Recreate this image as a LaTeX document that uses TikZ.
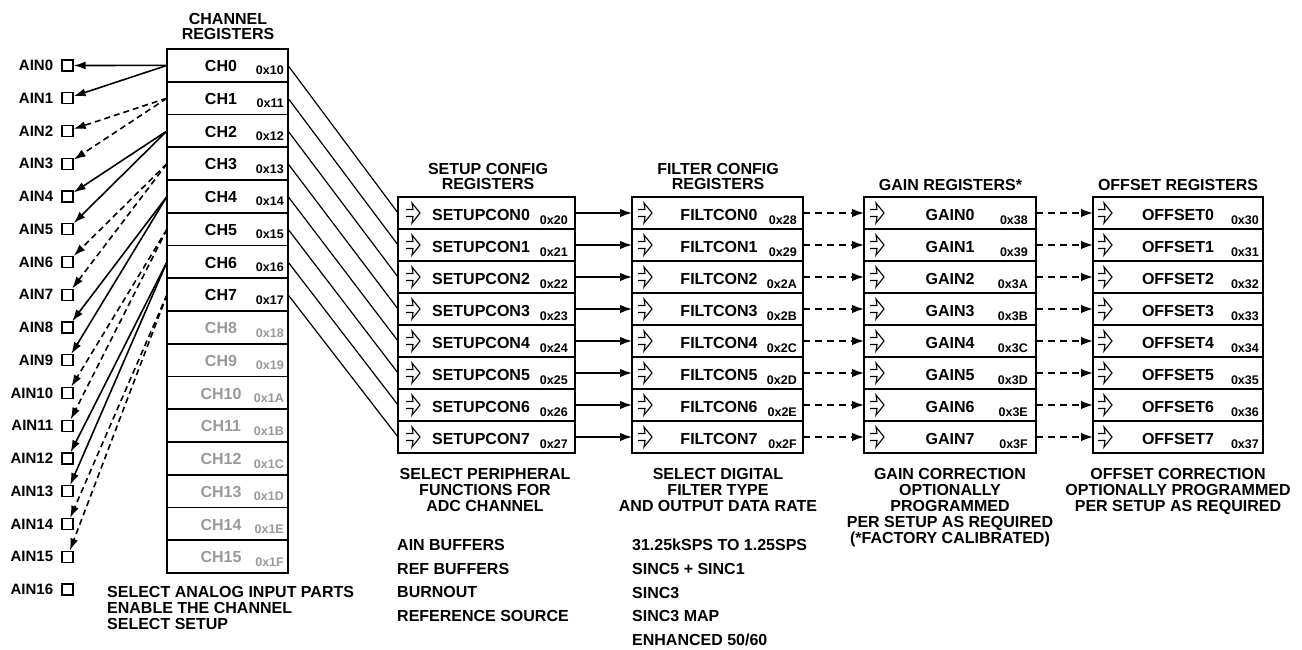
\documentclass[tikz,border=0pt]{standalone}
\usepackage{fontspec}
\setmainfont{Liberation Sans}
\usetikzlibrary{positioning,arrows.meta}
\definecolor{chgray}{gray}{0.6}

\begin{document}
\begin{tikzpicture}[x=1pt,y=-1pt,
  reg/.style={draw,line width=1.9pt,inner sep=0pt,outer sep=0pt,minimum height=32pt,minimum width=#1},
  chreg/.style={reg=121pt,minimum height=32.75pt},
  rname/.style={inner sep=0pt,font=\fontsize{16}{16}\selectfont\bfseries},
  raddr/.style={inner sep=0pt,anchor=base east,font=\fontsize{12.5}{12.5}\selectfont\bfseries},
  dim/.style={text=chgray},
  ainpad/.style={draw,line width=1.3pt,minimum size=11pt,inner sep=0pt},
  ainlbl/.style={inner sep=0pt,font=\fontsize{15}{15}\selectfont\bfseries},
  head/.style={inner sep=0pt,anchor=north,align=center,font=\fontsize{16}{15}\selectfont\bfseries},
  note/.style={inner sep=0pt,anchor=north,align=center,font=\fontsize{16}{16}\selectfont\bfseries},
  featlist/.style={inner sep=0pt,anchor=north west,align=left,font=\fontsize{16}{23.7}\selectfont\bfseries},
  wire/.style={line width=1.2pt},
  ainarr/.style={line width=1.6pt,-{Latex[length=12pt,width=8pt]}},
  ainarrd/.style={ainarr,dash pattern=on 6pt off 4pt},
  flow/.style={line width=1.6pt,-{Latex[length=12pt,width=8.5pt]}},
  dashflow/.style={flow,dash pattern=on 7pt off 5pt},
  warr/.pic={\draw[line width=1.1pt] (0,-3.5) -- (7,-3.5) -- (6,-10) -- (14,0) -- (6,10) -- (7,3.5) -- (0,3.5);}
]
\useasboundingbox (0,0) rectangle (1302,650);

% channel registers
\node[head] (chtitle) at (228,13) {CHANNEL\\REGISTERS};
\foreach \i/\a in {0/10,1/11,2/12,3/13,4/14,5/15,6/16,7/17} {
  \node[chreg] (ch\i) at (227.5,65.4+32.75*\i) {};
  \node[rname] (chn\i) at (221,66+32.75*\i) {CH\i};
  \node[raddr] (cha\i) at (284,75+32.75*\i) {0x\a};
}
\foreach \i/\a in {8/18,9/19,10/1A,11/1B,12/1C,13/1D,14/1E,15/1F} {
  \node[chreg] (ch\i) at (227.5,65.4+32.75*\i) {};
  \node[rname,dim] (chn\i) at (221,66+32.75*\i) {CH\i};
  \node[raddr,dim] (cha\i) at (284,75+32.75*\i) {0x\a};
}

% analog inputs
\foreach \i in {0,...,16} {
  \node[ainpad] (ain\i) at (67.5,65.5+32.75*\i) {};
  \node[ainlbl,left=8pt of ain\i] (ainl\i) {AIN\i};
}
\foreach \i in {0,...,15} {
  \pgfmathtruncatemacro\k{\i/2}
  \pgfmathtruncatemacro\odd{mod(\k,2)}
  \ifnum\odd=0
    \draw[ainarr] (ch\k.west) -- (ain\i);
  \else
    \draw[ainarrd] (ch\k.west) -- (ain\i);
  \fi
}

% setup / filter / gain / offset registers
\node[head] (sutitle) at (488,163) {SETUP CONFIG\\REGISTERS};
\node[head] (fititle) at (718,163) {FILTER CONFIG\\REGISTERS};
\node[head] (gatitle) at (950.5,179) {GAIN REGISTERS*};
\node[head] (oftitle) at (1178,179) {OFFSET REGISTERS};
\foreach \k/\f/\g in {0/28/38,1/29/39,2/2A/3A,3/2B/3B,4/2C/3C,5/2D/3D,6/2E/3E,7/2F/3F} {
  \node[reg=177pt] (su\k) at (486.5,213+32*\k) {};
  \node[reg=171pt] (fi\k) at (717.5,213+32*\k) {};
  \node[reg=172pt] (ga\k) at (950,213+32*\k) {};
  \node[reg=170pt] (of\k) at (1178,213+32*\k) {};
  \node[rname] (sun\k) at (481,215+32*\k) {SETUPCON\k};
  \node[rname] (fin\k) at (719,215+32*\k) {FILTCON\k};
  \node[rname] (gan\k) at (950,215+32*\k) {GAIN\k};
  \node[rname] (ofn\k) at (1178,215+32*\k) {OFFSET\k};
  \node[raddr] (sua\k) at (568,224.5+32*\k) {0x2\k};
  \node[raddr] (fia\k) at (797,224.5+32*\k) {0x\f};
  \node[raddr] (gaa\k) at (1028,224.5+32*\k) {0x\g};
  \node[raddr] (ofa\k) at (1259,224.5+32*\k) {0x3\k};
  \path (su\k.west) ++(8,0) pic {warr};
  \path (fi\k.west) ++(6,0) pic {warr};
  \path (ga\k.west) ++(6,0) pic {warr};
  \path (of\k.west) ++(5,0) pic {warr};
  \draw[wire] (ch\k.east) -- (su\k.west);
  \draw[flow] (su\k.east) -- (fi\k.west);
  \draw[dashflow] (fi\k.east) -- (ga\k.west);
  \draw[dashflow] (ga\k.east) -- (of\k.west);
}

% descriptions
\node[featlist,font=\fontsize{16}{16}\selectfont\bfseries] (chnote) at (107,586)
  {SELECT ANALOG INPUT PARTS\\ENABLE THE CHANNEL\\SELECT SETUP};
\node[note] (sunote) at (485,468) {SELECT PERIPHERAL\\FUNCTIONS FOR\\ADC CHANNEL};
\node[note] (finote) at (718,468) {SELECT DIGITAL\\FILTER TYPE\\AND OUTPUT DATA RATE};
\node[note] (ganote) at (950,468) {GAIN CORRECTION\\OPTIONALLY\\PROGRAMMED\\PER SETUP AS REQUIRED\\(*FACTORY CALIBRATED)};
\node[note] (ofnote) at (1178,468) {OFFSET CORRECTION\\OPTIONALLY PROGRAMMED\\PER SETUP AS REQUIRED};
\node[featlist] (sulist) at (397,539) {AIN BUFFERS\\REF BUFFERS\\BURNOUT\\REFERENCE SOURCE};
\node[featlist] (filist) at (632,539) {31.25kSPS TO 1.25SPS\\SINC5 + SINC1\\SINC3\\SINC3 MAP\\ENHANCED 50/60};
\end{tikzpicture}
\end{document}
